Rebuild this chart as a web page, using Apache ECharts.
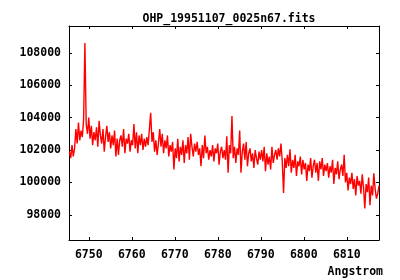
<!DOCTYPE html>
<html>
<head>
<meta charset="utf-8">
<script src="https://cdn.jsdelivr.net/npm/echarts@6/dist/echarts.min.js"></script>
<style>html,body{margin:0;padding:0;background:#fff}#c{width:400px;height:280px}</style>
</head>
<body>
<div id="c"></div>
<script>
const titleText = "OHP_19951107_0025n67.fits";
const xName = "Angstrom";
const lambdaStart = 6745.5;
const lambdaStep = 0.3;
const xTickLabels = [6750, 6760, 6770, 6780, 6790, 6800, 6810];
const yTickLabels = [98000, 100000, 102000, 104000, 106000, 108000];
const flux = [
  101900, 101500, 102300, 101600, 102100, 103300, 102400, 103700, 102600, 103200,
  102800, 103900, 108600, 103600, 103000, 104000, 102700, 103500, 102300, 103100,
  102600, 103400, 102200, 103800, 102900, 102400, 103300, 101900, 102800, 103500,
  102500, 103100, 102100, 102900, 102300, 103200, 101600, 102700, 101700, 102600,
  102900, 102200, 103300, 101800, 102700, 102400, 103000, 101900, 102600, 102300,
  103600, 102100, 103100, 101800, 102900, 102300, 103000, 102000, 102700, 102200,
  102800, 102300, 103300, 104300, 102500, 103100, 101900, 102600, 101700, 102400,
  103300, 102200, 103000, 101800, 102600, 102100, 102900, 101600, 102300, 101900,
  102500, 100800, 102100, 101500, 102700, 101300, 102200, 101700, 102600, 101200,
  102300, 101800, 102800, 101400, 103000, 102200, 101600, 102400, 101900, 102500,
  101700, 102100, 101000, 102300, 101500, 102900, 101800, 102200, 101400, 102000,
  101600, 102300, 101300, 102100, 101800, 102400, 101100, 101900, 102200, 101500,
  102000, 101400, 102850, 100600, 102300, 101800, 104100, 101500, 102200, 101200,
  102100, 101700, 103200, 100600, 101900, 102400, 101400, 102500, 101000, 101800,
  102100, 101300, 101800, 100900, 102000, 101500, 101100, 101900, 101400, 102000,
  101300, 102200, 100700, 101800, 101100, 101600, 100800, 102200, 101200, 101700,
  102000, 101400, 102100, 101600, 102400, 101300, 99350, 101500, 100900, 101700,
  101000, 102050, 100600, 101400, 100900, 101700, 100400, 101300, 101000, 101600,
  100500, 101400, 100800, 101200, 100100, 101100, 100700, 101500, 100300, 101000,
  101400, 100600, 101200, 100100, 101300, 100800, 101500, 100400, 101100, 100700,
  101200, 100300, 101000, 100600, 101400, 99900, 100900, 100500, 101300, 100200,
  100800, 101100, 100400, 101700, 100000, 100600, 99500, 100300, 99900, 100600,
  99600, 100200, 99200, 100400, 99800, 100100, 99300, 100500, 99700, 98400,
  99900, 99400, 100300, 98600, 99800, 99200, 100570, 99600, 99000, 99300,
  99800
];
const xMin = 6745.4, xMax = 6817.5;
const yMin = 96450, yMax = 109650;

const points = flux.map((v, i) => [+(lambdaStart + i * lambdaStep).toFixed(2), v]);
const FONT = 'DejaVu Sans Mono';
const lbl = {fontFamily: FONT, fontWeight: 'bold', fontSize: 11.5, color: '#000'};
const xFmt = v => xTickLabels.some(t => Math.abs(t - v) < 1e-6) ? String(v) : '';
const yFmt = v => yTickLabels.some(t => Math.abs(t - v) < 1e-6) ? String(v) : '';
const axLine = {show: true, lineStyle: {color: '#000', width: 1}};
const tick = {show: true, inside: true, length: 3, lineStyle: {color: '#000', width: 1}};

const chart = echarts.init(document.getElementById('c'), null, {renderer: 'canvas'});
chart.setOption({
  animation: false,
  backgroundColor: '#fff',
  title: [
    {text: titleText, left: 224, top: 8, textAlign: 'center',
     textStyle: Object.assign({}, lbl)},
    {text: xName, right: 12, top: 261,
     textStyle: Object.assign({}, lbl)}
  ],
  grid: {left: 69, right: 21, top: 26, bottom: 40, containLabel: false},
  xAxis: [
    {type: 'value', position: 'bottom', min: xMin, max: xMax, splitNumber: 7,
     axisLine: axLine, axisTick: tick, splitLine: {show: false},
     axisLabel: Object.assign({margin: 9, formatter: xFmt, showMinLabel: false, showMaxLabel: false}, lbl)},
    {type: 'value', position: 'top', min: xMin, max: xMax, splitNumber: 7,
     axisLine: axLine, axisTick: tick, splitLine: {show: false}, axisLabel: {show: false}}
  ],
  yAxis: [
    {type: 'value', position: 'left', min: yMin, max: yMax, splitNumber: 6,
     axisLine: axLine, axisTick: tick, splitLine: {show: false},
     axisLabel: Object.assign({margin: 8, formatter: yFmt, showMinLabel: false, showMaxLabel: false}, lbl)},
    {type: 'value', position: 'right', min: yMin, max: yMax, splitNumber: 6,
     axisLine: axLine, axisTick: tick, splitLine: {show: false}, axisLabel: {show: false}}
  ],
  series: [{
    type: 'line', xAxisIndex: 0, yAxisIndex: 0, data: points,
    showSymbol: false, symbol: 'none',
    lineStyle: {color: '#ff0000', width: 1.4}, itemStyle: {color: '#ff0000'}
  }]
});
</script>
</body>
</html>
